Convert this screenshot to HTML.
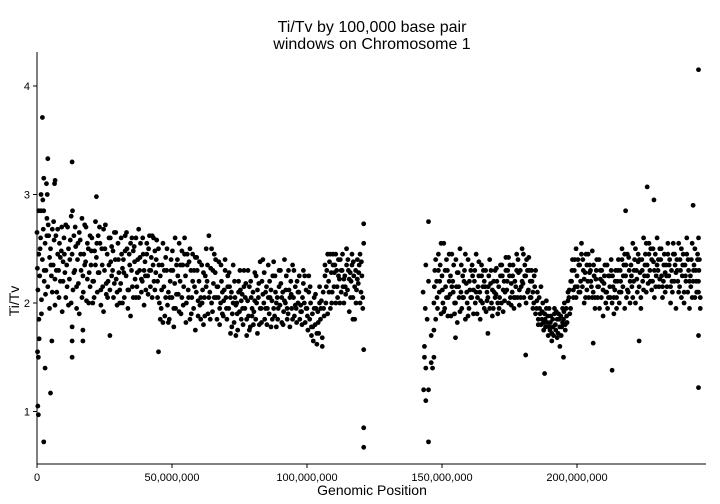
<!DOCTYPE html>
<html><head><meta charset="utf-8">
<style>
html,body{margin:0;padding:0;background:#fff;}
svg{display:block;font-family:"Liberation Sans",Arial,sans-serif;}
</style></head>
<body>
<svg id="chart" width="720" height="504" viewBox="0 0 720 504" xmlns="http://www.w3.org/2000/svg">
<rect width="720" height="504" fill="#fff"/>
<text x="372" y="32" font-size="16" text-anchor="middle">Ti/Tv by 100,000 base pair</text>
<text x="372" y="49" font-size="16" text-anchor="middle">windows on Chromosome 1</text>
<text transform="translate(19,301) rotate(-90)" font-size="14" text-anchor="middle">Ti/Tv</text>
<text x="372" y="495" font-size="14" text-anchor="middle">Genomic Position</text>
<g id="axes"></g>
<g id="points"></g>
</svg>
<script>
const xTicks = [0, 50, 100, 150, 200];
const xTickLabels = ["0", "50,000,000", "100,000,000", "150,000,000", "200,000,000"];
const yTicks = [1, 2, 3, 4];
const yTickLabels = ["1", "2", "3", "4"];
// rows: [Mb start, value window1, value window2, value window3]
const bandRows = [
[0,2.65,2.12,2.45],[1,2.25,2.6,2.03],[2,2.4,2.68,2.2],[3,2.55,2.3,2.78],[4,2.15,2.62,2.42],[5,2.5,2.25,2.68],[6,2.35,2.58,1.98],[7,2.62,2.1,2.45],[8,2.3,2.55,2.2],[9,2.48,1.92,2.38],
[10,2.6,2.28,2.05],[11,2.35,2.7,2.5],[12,2.22,2.58,2.8],[13,2.45,2.12,2.62],[14,2.3,2.52,1.95],[15,2.4,2.18,2.65],[16,2.58,2.3,2.05],[17,2.25,2.45,2.72],[18,2.38,2.02,2.55],[19,2.5,2.28,2.15],
[20,2.35,2.6,2.0],[21,2.2,2.48,2.75],[22,2.42,2.1,2.62],[23,2.28,2.55,1.98],[24,2.5,2.15,2.68],[25,2.3,2.72,2.08],[26,2.45,2.2,2.6],[27,2.12,2.38,2.52],[28,2.3,2.05,2.65],[29,2.4,2.22,2.1],
[30,2.55,2.28,2.0],[31,2.18,2.45,2.32],[32,2.4,2.05,2.62],[33,2.25,2.5,1.95],[34,2.12,2.35,2.55],[35,2.3,2.15,2.48],[36,2.52,2.22,2.05],[37,2.15,2.4,2.68],[38,2.3,2.55,2.1],[39,2.2,2.45,1.98],
[40,2.38,2.12,2.55],[41,2.25,2.5,2.3],[42,2.15,2.42,2.62],[43,2.35,2.2,2.48],[44,2.28,2.58,2.05],[45,2.5,2.0,2.25],[46,1.95,2.35,2.55],[47,2.15,1.88,2.42],[48,2.3,1.98,2.1],[49,1.85,2.2,2.4],
[50,2.05,2.3,1.78],[51,2.18,1.95,2.35],[52,2.4,2.08,2.55],[53,2.2,1.9,2.48],[54,2.35,2.15,2.6],[55,2.25,2.0,2.45],[56,2.12,2.38,1.85],[57,2.3,2.05,2.2],[58,1.95,2.15,2.42],[59,2.1,2.3,1.88],
[60,2.2,1.98,2.05],[61,2.35,2.12,1.8],[62,2.05,2.25,2.5],[63,2.2,1.9,2.62],[64,2.1,2.32,2.0],[65,1.92,2.18,2.45],[66,2.28,2.05,1.85],[67,2.15,2.38,1.95],[68,2.0,2.2,2.1],[69,1.88,2.12,2.3],
[70,2.05,1.85,2.25],[71,1.95,2.15,1.72],[72,2.1,1.9,2.35],[73,1.82,2.05,1.98],[74,2.0,1.75,2.2],[75,1.92,2.12,1.85],[76,2.08,1.8,2.3],[77,1.95,2.18,1.7],[78,2.02,1.88,2.15],[79,1.78,2.05,1.95],
[80,2.1,1.92,2.28],[81,1.85,2.0,2.12],[82,2.05,1.8,1.95],[83,1.95,2.2,2.4],[84,2.0,1.85,2.1],[85,2.15,1.95,2.35],[86,1.9,2.05,1.78],[87,2.02,2.25,1.95],[88,1.88,2.1,2.0],[89,2.05,1.95,2.3],
[90,1.98,2.18,1.82],[91,2.1,1.92,2.4],[92,2.0,2.25,1.85],[93,1.9,2.12,2.05],[94,2.2,1.95,2.35],[95,2.05,1.88,2.15],[96,1.95,2.2,2.0],[97,2.1,1.85,1.98],[98,1.92,2.05,2.3],[99,2.0,1.82,2.12],
[100,1.95,1.75,2.1],[101,1.85,2.0,1.7],[102,1.9,1.65,2.05],[103,1.8,1.95,1.62],[104,1.92,1.72,2.15],[105,1.85,2.02,1.68],[106,2.1,1.88,2.25],[107,2.0,2.3,1.9],
[108,2.2,2.38,1.95],[109,2.28,2.1,2.45],[110,2.15,2.35,2.0],[111,2.3,2.05,2.25],[112,2.22,2.4,2.1],[113,2.3,2.15,2.0],[114,2.25,2.08,2.35],[115,2.12,2.3,1.92],[116,2.28,2.2,2.45],[117,2.05,2.25,1.85],
[118,2.3,2.12,2.4],[119,2.18,2.35,2.0],[120,2.1,2.25,1.95],
[147,2.0,2.3,1.85],[148,2.2,1.95,2.45],[149,2.1,2.35,1.9],[150,2.25,2.0,2.55],[151,1.95,2.15,2.4],[152,2.3,2.05,2.2],[153,2.08,1.88,2.45],[154,2.2,2.35,2.0],[155,2.0,2.15,1.82],[156,2.28,2.05,2.5],
[157,2.1,1.95,2.25],[158,2.05,2.3,1.85],[159,2.18,2.0,2.4],[160,1.95,2.12,2.3],[161,2.05,2.25,1.9],[162,2.2,2.0,2.1],[163,1.9,2.15,2.38],[164,2.1,2.02,2.25],[165,2.0,2.3,1.95],[166,2.15,1.92,2.1],
[167,2.05,2.25,2.4],[168,2.18,2.0,2.12],[169,1.95,2.1,2.3],[170,2.08,2.2,1.9],[171,2.15,2.05,2.35],[172,2.0,2.25,2.12],[173,2.2,2.1,2.42],[174,2.12,2.3,2.0],[175,2.25,2.05,2.18],[176,2.1,2.35,1.95],
[177,2.2,2.15,2.45],[178,2.05,2.28,2.12],[179,2.3,2.15,2.5],[180,2.18,2.05,2.35],[181,2.25,2.4,2.1],[182,2.12,2.3,2.2],[183,2.05,2.2,1.95],[184,2.0,2.15,2.3],
[185,1.95,2.1,1.85],[186,2.05,1.9,1.8],[187,1.85,2.0,1.75],[188,1.9,1.78,2.02],[189,1.82,1.7,1.95],[190,1.75,1.88,1.65],[191,1.85,1.7,1.95],[192,1.8,1.92,1.68],[193,1.72,1.85,1.6],[194,1.88,1.78,1.95],
[195,1.85,2.0,1.75],[196,1.95,1.82,2.1],[197,2.05,1.9,2.2],
[198,2.2,2.4,2.05],[199,2.3,2.15,2.5],[200,2.25,2.4,2.1],[201,2.35,2.2,2.55],[202,2.15,2.3,2.0],[203,2.28,2.45,2.12],[204,2.2,2.05,2.35],[205,2.3,2.15,2.48],[206,2.1,2.25,1.95],[207,2.22,2.4,2.05],
[208,2.15,1.95,2.3],[209,2.05,2.2,1.88],[210,2.18,2.35,2.0],[211,2.1,1.95,2.25],[212,2.25,2.05,2.4],[213,2.0,2.15,1.9],[214,2.12,2.3,2.05],
[215,2.2,2.4,2.0],[216,2.3,2.1,2.5],[217,2.15,2.35,1.95],[218,2.25,2.05,2.45],[219,2.1,2.3,2.2],[220,2.35,2.15,2.55],[221,2.2,2.4,2.0],[222,2.3,2.1,2.45],[223,2.15,2.28,1.95],[224,2.4,2.2,2.6],
[225,2.25,2.45,2.1],[226,2.35,2.18,2.55],[227,2.3,2.5,2.12],[228,2.2,2.38,2.05],[229,2.45,2.25,2.6],[230,2.3,2.15,2.5],[231,2.4,2.25,2.05],[232,2.2,2.45,2.1],[233,2.35,2.15,2.55],[234,2.25,2.4,2.0],
[235,2.3,2.1,2.45],[236,2.2,2.35,1.95],[237,2.4,2.2,2.55],[238,2.15,2.3,2.05],[239,2.25,2.45,2.1],[240,2.35,2.2,2.6],[241,2.1,2.3,1.95],[242,2.25,2.4,2.05],[243,2.2,2.35,2.5],[244,2.3,2.1,2.45],[245,2.2,2.4,1.95]
];
// additional windows per Mb: [Mb start, value a, value b]
const extraRows = [
[0,2.32,2.85],[1,2.5,1.9],[2,2.95,2.3],[3,2.08,2.62],[4,2.72,1.95],[5,2.35,2.1],[6,2.75,2.22],[7,2.3,2.68],[8,2.05,2.42],[9,2.7,2.2],
[10,2.45,2.72],[11,2.15,1.98],[12,2.4,2.0],[13,2.85,2.28],[14,2.7,2.15],[15,2.55,1.9],[16,2.45,2.78],[17,2.1,2.35],[18,2.7,2.22],[19,2.0,2.62],
[20,2.48,2.2],[21,2.05,2.35],[22,2.55,2.28],[23,2.7,2.12],[24,2.35,1.92],[25,2.5,2.18],[26,2.05,2.35],[27,2.6,2.25],[28,2.48,2.18],[29,2.65,1.98],
[30,2.4,2.12],[31,2.6,2.0],[32,2.28,2.48],[33,2.65,2.12],[34,2.45,1.88],[35,2.6,2.05],[36,2.38,2.6],[37,2.28,2.05],[38,2.42,2.22],[39,2.6,2.3],
[40,2.25,2.45],[41,2.08,2.62],[42,2.3,2.05],[43,2.6,2.12],[44,2.4,2.2],[45,2.35,1.85],[46,2.12,1.82],[47,2.3,2.05],[48,2.5,1.82],[49,2.05,2.3],
[50,2.48,1.95],[51,2.6,2.08],[52,2.25,1.92],[53,2.35,2.05],[54,1.98,2.45],[55,1.82,2.35],[56,2.05,2.5],[57,1.9,2.45],[58,2.3,1.75],[59,2.42,2.02],
[60,2.38,1.85],[61,2.0,2.28],[62,1.88,2.15],[63,2.35,2.05],[64,1.85,2.5],[65,2.3,2.05],[66,2.4,2.15],[67,2.05,1.8],[68,2.35,1.9],[69,2.02,2.4],
[70,1.95,2.15],[71,2.28,2.05],[72,1.78,2.0],[73,2.2,1.7],[74,1.9,2.1],[75,2.3,2.02],[76,1.95,2.15],[77,2.05,1.85],[78,2.3,1.75],[79,2.2,1.88],
[80,1.8,2.02],[81,2.25,1.72],[82,2.18,2.38],[83,1.82,2.08],[84,2.28,1.95],[85,1.8,2.05],[86,2.2,2.12],[87,1.85,2.38],[88,2.25,1.78],[89,1.85,2.15],
[90,2.3,2.05],[91,1.8,2.02],[92,2.12,1.95],[93,2.3,1.78],[94,2.08,1.85],[95,2.3,1.98],[96,1.82,2.1],[97,2.25,1.92],[98,1.8,2.18],[99,2.25,1.95],
[100,1.88,2.25],[101,2.15,1.78],[102,1.78,1.95],[103,2.08,1.72],[104,1.82,2.0],[105,1.95,1.6],[106,1.95,2.35],[107,2.15,2.45],
[108,2.1,2.45],[109,2.0,2.35],[110,2.28,2.45],[111,2.15,2.4],[112,2.0,2.3],[113,2.45,2.22],[114,2.15,2.5],[115,2.4,2.22],[116,2.05,2.35],[117,2.38,2.15],
[118,2.0,2.22],[119,2.28,2.45],[120,2.38,2.05],
[147,2.15,2.4],[148,2.05,2.3],[149,2.2,2.55],[150,2.12,1.92],[151,2.3,2.05],[152,1.88,2.45],[153,2.25,2.15],[154,2.1,1.9],[155,2.4,2.28],[156,2.15,1.92],
[157,2.35,2.05],[158,2.2,2.45],[159,2.1,1.88],[160,2.2,2.05],[161,2.35,2.12],[162,2.3,2.45],[163,2.05,2.25],[164,1.85,2.35],[165,2.15,2.2],[166,2.3,2.02],
[167,2.15,1.95],[168,2.3,1.88],[169,2.2,2.05],[170,2.32,2.0],[171,1.95,2.25],[172,2.35,1.92],[173,2.02,2.3],[174,2.2,2.42],[175,2.35,1.98],[176,2.25,2.05],
[177,2.05,2.3],[178,2.4,1.98],[179,2.05,2.2],[180,2.45,2.25],[181,2.0,2.3],[182,2.42,2.05],[183,2.3,2.1],[184,2.25,1.9],
[185,2.02,1.8],[186,1.95,2.15],[187,1.92,1.82],[188,1.85,1.95],[189,1.88,1.78],[190,1.82,1.72],[191,1.78,1.9],[192,1.75,1.85],[193,1.9,1.78],[194,1.7,1.82],
[195,1.92,1.8],[196,1.88,2.02],[197,2.12,1.95],
[198,2.3,2.12],[199,2.4,2.05],[200,2.15,2.35],[201,2.1,2.45],[202,2.4,2.22],[203,2.05,2.35],[204,2.45,2.28],[205,2.2,2.05],[206,2.35,2.05],[207,2.3,2.15],
[208,2.4,2.22],[209,2.3,2.12],[210,2.25,2.1],[211,2.35,2.05],[212,2.15,2.3],[213,2.25,2.05],[214,2.2,1.95],
[215,2.3,2.1],[216,2.2,2.4],[217,2.25,2.45],[218,2.35,2.12],[219,2.42,2.0],[220,2.25,2.05],[221,2.3,2.5],[222,2.22,2.38],[223,2.4,2.05],[224,2.3,2.12],
[225,2.35,2.55],[226,2.25,2.45],[227,2.2,2.4],[228,2.5,2.3],[229,2.15,2.35],[230,2.4,2.22],[231,2.5,2.15],[232,2.35,2.28],[233,2.25,2.45],[234,2.35,2.15],
[235,2.2,2.55],[236,2.45,2.28],[237,2.3,2.1],[238,2.4,2.5],[239,2.35,2.0],[240,2.25,2.45],[241,2.4,2.2],[242,2.15,2.55],[243,2.3,2.05],[244,2.2,2.4],[245,2.3,2.05]
];
// individual windows (Mb, Ti/Tv) away from the main band
const outlierPos = [0.5,0.3,0.5,2,1.5,2.5,4,3.5,3.8,6.5,6.7,1.5,2.5,0.7,0.8,0.2,2.5,3,5,5.5,13,13,13,13,17,17,45,22,27,121,121,121,121,121,117,
143.5,143.5,144,143.2,144,145,145,146,146.5,147,146,147,145,144,145,143,143.8,144.5,
226,228.5,243,245,245,245,206,213,223,218,188,195,181,167,155,245,245];
const outlierVal = [1.5,1.05,0.97,3.71,3.0,3.15,3.33,3.1,3.0,3.1,3.13,2.85,2.85,1.85,1.67,1.55,0.72,1.4,1.17,1.65,3.3,1.5,1.65,1.78,1.65,1.75,1.55,2.98,1.7,2.73,2.55,0.85,0.67,1.57,1.85,
1.6,1.5,1.4,1.2,1.1,0.72,1.2,1.45,1.4,1.5,1.7,1.75,2.2,2.35,2.75,2.1,1.95,1.85,
3.07,2.95,2.9,4.15,1.22,1.7,1.63,1.38,1.65,2.85,1.35,1.5,1.52,1.72,1.68,2.6,2.1];

const NS = "http://www.w3.org/2000/svg";
const x0 = 37, pxPerMb = 2.7;
function xs(mb){ return x0 + mb * pxPerMb; }
function ys(v){ return 303 - (v - 2) * 108.5; }

const axes = document.getElementById('axes');
function mk(tag, attrs, parent){
  const e = document.createElementNS(NS, tag);
  for (const k in attrs) e.setAttribute(k, attrs[k]);
  parent.appendChild(e);
  return e;
}
const yAxis = mk('line', {x1:37,y1:52,x2:37,y2:464,stroke:'#000','stroke-width':1}, axes);


const xAxis = mk('line', {x1:37,y1:464,x2:706,y2:464,stroke:'#000','stroke-width':1}, axes);



xTicks.forEach((t, i) => {
  const x = xs(t);
  const tk = mk('line', {x1:x,y1:464,x2:x,y2:468,stroke:'#000'}, axes);
  
  
  const lb = mk('text', {x:x,y:481,'font-size':11,'text-anchor':'middle'}, axes);
  lb.textContent = xTickLabels[i];
  
  
});
yTicks.forEach((t, i) => {
  const y = ys(t);
  const tk = mk('line', {x1:33,y1:y,x2:37,y2:y,stroke:'#000'}, axes);
  
  
  const lb = mk('text', {x:30,y:y+4,'font-size':11,'text-anchor':'end'}, axes);
  lb.textContent = yTickLabels[i];
  
  
});

const pts = document.getElementById('points');
bandRows.forEach(row => {
  for (let i = 1; i < row.length; i++) {
    const c = mk('circle', {cx: xs(row[0] + (i - 1) * 0.33), cy: ys(row[i]), r: 2.4, fill: '#000'}, pts);
    
    
  }
});
extraRows.forEach(row => {
  for (let i = 1; i < row.length; i++) {
    const c = mk('circle', {cx: xs(row[0] + 0.15 + (i - 1) * 0.5), cy: ys(row[i]), r: 2.4, fill: '#000'}, pts);
    
    
  }
});
outlierPos.forEach((p, i) => {
  const c = mk('circle', {cx: xs(p), cy: ys(outlierVal[i]), r: 2.4, fill: '#000'}, pts);
  
  
});
</script>
</body></html>
